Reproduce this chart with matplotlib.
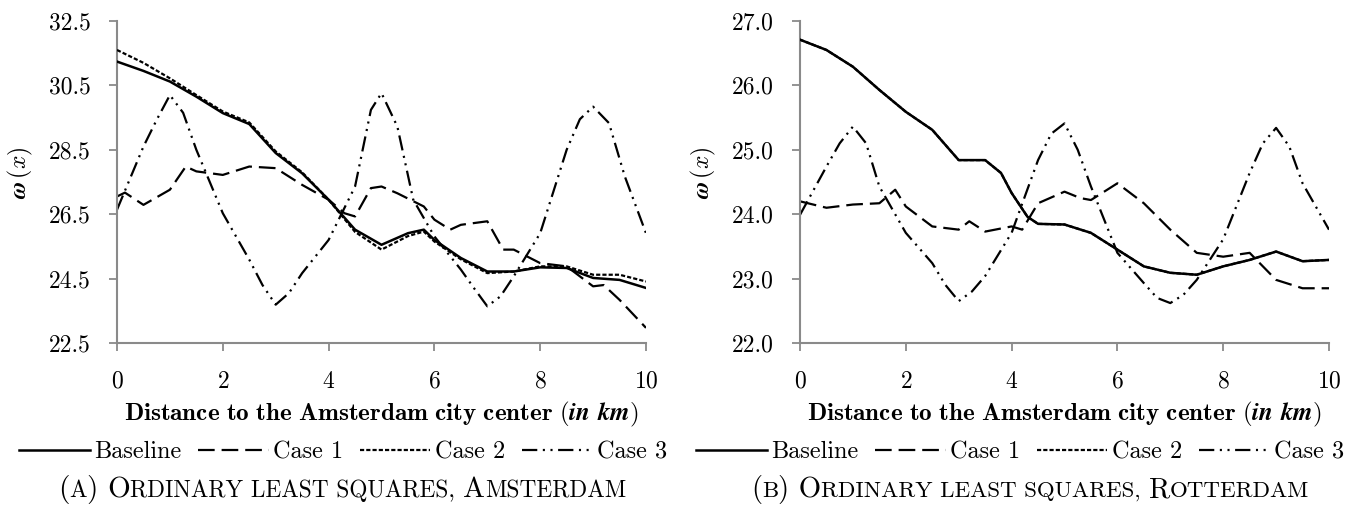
import numpy as np
import matplotlib
matplotlib.use("Agg")
import matplotlib.pyplot as plt

# values (distance in km, omega(x))
ams_base_x = [0, 0.5, 1, 1.5, 2, 2.5, 3, 3.5, 4, 4.5, 5, 5.5, 5.8, 6, 6.5, 7, 7.5, 8, 8.5, 9, 9.5, 10]
ams_base_y = [31.24, 30.95, 30.62, 30.15, 29.64, 29.3, 28.4, 27.77, 26.95, 26.02, 25.55, 25.91, 26.02,
              25.7, 25.14, 24.72, 24.72, 24.85, 24.83, 24.52, 24.46, 24.21]
ams_c2_y = [31.6, 31.2, 30.72, 30.2, 29.69, 29.35, 28.45, 27.8, 26.95, 25.95, 25.4, 25.82, 25.96,
            25.65, 25.1, 24.67, 24.72, 24.88, 24.88, 24.62, 24.62, 24.41]
ams_c1_x = [0, 0.15, 0.5, 1, 1.3, 1.5, 2, 2.5, 3, 3.5, 4, 4.3, 4.5, 4.8, 5, 5.3, 5.8, 6, 6.3, 6.5,
            7, 7.3, 7.5, 8, 8.5, 9, 9.2, 9.5, 10]
ams_c1_y = [27.05, 27.17, 26.79, 27.26, 27.98, 27.83, 27.72, 27.98, 27.93, 27.41, 26.95, 26.53, 26.43,
            27.31, 27.36, 27.15, 26.74, 26.33, 26.02, 26.17, 26.28, 25.4, 25.4, 24.98, 24.88, 24.26,
            24.3, 23.84, 22.97]
ams_c3_x = [0, 0.5, 0.75, 1, 1.25, 1.5, 2, 2.5, 2.75, 3, 3.25, 3.5, 4, 4.5, 4.8, 5, 5.3, 5.6, 6, 6.5,
            6.75, 7, 7.25, 7.5, 8, 8.5, 8.75, 9, 9.3, 9.6, 10]
ams_c3_y = [26.64, 28.6, 29.43, 30.2, 29.65, 28.5, 26.53, 25.09, 24.3, 23.69, 24.05, 24.67, 25.7, 27.36,
            29.74, 30.26, 29.22, 26.95, 25.81, 24.78, 24.2, 23.64, 23.95, 24.57, 25.91, 28.5, 29.45,
            29.84, 29.33, 27.67, 25.91]

rot_base_x = [0, 0.5, 1, 1.5, 2, 2.5, 3, 3.5, 3.8, 4, 4.3, 4.5, 5, 5.5, 6, 6.5, 7, 7.5, 8, 8.5,
              9, 9.5, 10]
rot_base_y = [26.71, 26.55, 26.29, 25.93, 25.59, 25.31, 24.84, 24.84, 24.64, 24.33, 23.96, 23.85,
              23.84, 23.71, 23.45, 23.19, 23.09, 23.06, 23.19, 23.29, 23.42, 23.27, 23.29]
rot_c2_y = [26.71, 26.55, 26.29, 25.93, 25.59, 25.31, 24.84, 24.84, 24.64, 24.33, 23.96, 23.85,
            23.84, 23.71, 23.45, 23.19, 23.09, 23.06, 23.19, 23.29, 23.42, 23.27, 23.29]
rot_c1_x = [0, 0.5, 1, 1.5, 1.8, 2, 2.5, 3, 3.2, 3.5, 4, 4.2, 4.5, 5, 5.3, 5.5, 6, 6.5, 7, 7.5,
            8, 8.5, 9, 9.5, 10]
rot_c1_y = [24.2, 24.1, 24.15, 24.17, 24.38, 24.12, 23.81, 23.76, 23.89, 23.73, 23.81, 23.76, 24.17,
            24.35, 24.25, 24.22, 24.48, 24.17, 23.76, 23.4, 23.34, 23.4, 22.98, 22.85, 22.85]
rot_c3_x = [0, 0.5, 0.75, 1, 1.25, 1.5, 2, 2.5, 2.75, 3, 3.25, 3.5, 4, 4.5, 4.75, 5, 5.25, 5.5, 6,
            6.5, 6.75, 7, 7.25, 7.5, 8, 8.5, 8.75, 9, 9.25, 9.5, 10]
rot_c3_y = [23.99, 24.74, 25.1, 25.36, 25.1, 24.43, 23.71, 23.24, 22.9, 22.65, 22.8, 23.04, 23.71,
            24.84, 25.25, 25.41, 25.0, 24.43, 23.4, 22.93, 22.7, 22.62, 22.75, 22.98, 23.61, 24.64,
            25.1, 25.34, 25.05, 24.48, 23.76]

labels = ["Baseline", "Case 1", "Case 2", "Case 3"]
ams_yticks = [22.5, 24.5, 26.5, 28.5, 30.5, 32.5]
rot_yticks = [22.0, 23.0, 24.0, 25.0, 26.0, 27.0]
xticks = [0, 2, 4, 6, 8, 10]
xlabel = r'$\mathbf{Distance\ to\ the\ Amsterdam\ city\ center}\ \boldsymbol{(in\ km)}$'
captions = [
    [("(", True), ("A", False), (") O", True), ("RDINARY LEAST SQUARES, ", False),
     ("A", True), ("MSTERDAM", False)],
    [("(", True), ("B", False), (") O", True), ("RDINARY LEAST SQUARES, ", False),
     ("R", True), ("OTTERDAM", False)],
]

plt.rcParams['font.family'] = 'serif'
plt.rcParams['font.serif'] = ['cmr10']
plt.rcParams['mathtext.fontset'] = 'cm'
plt.rcParams['axes.formatter.use_mathtext'] = True
plt.rcParams['lines.scale_dashes'] = False

styles = [
    dict(color='black', lw=1.8, ls='-'),
    dict(color='black', lw=1.6, ls=(0, (12, 5))),
    dict(color='black', lw=1.6, ls=(0, (3, 1.5))),
    dict(color='black', lw=1.6, ls=(0, (11, 4, 1.5, 4, 1.5, 4))),
]
zorders = [4, 2, 3, 2]
grey = '#8a8a8a'

W, H = 1351, 508
fig = plt.figure(figsize=(W/100, H/100), dpi=100)
ax1 = fig.add_axes([117/W, 1-343/H, 529/W, 322/H])
ax2 = fig.add_axes([800/W, 1-343/H, 529/W, 322/H])

panels = [
    (ax1, [(ams_base_x, ams_base_y), (ams_c1_x, ams_c1_y), (ams_base_x, ams_c2_y), (ams_c3_x, ams_c3_y)],
     ams_yticks),
    (ax2, [(rot_base_x, rot_base_y), (rot_c1_x, rot_c1_y), (rot_base_x, rot_c2_y), (rot_c3_x, rot_c3_y)],
     rot_yticks),
]

all_handles = []
for ax, series, yt in panels:
    handles = []
    for (xs, ys), st, lab, z in zip(series, styles, labels, zorders):
        h, = ax.plot(xs, ys, label=lab, zorder=z, **st)
        handles.append(h)
    all_handles.append(handles)
    ax.set_xlim(0, 10)
    ax.set_ylim(yt[0], yt[-1])
    ax.set_xticks(xticks)
    ax.set_yticks(yt)
    ax.set_yticklabels(["%.1f" % v for v in yt])
    for s in ['top', 'right']:
        ax.spines[s].set_visible(False)
    for s in ['left', 'bottom']:
        ax.spines[s].set_color(grey)
        ax.spines[s].set_linewidth(1.5)
    ax.tick_params(direction='out', length=6, width=1.3, color=grey, labelsize=17)
    ax.tick_params(axis='x', pad=14)
    ax.tick_params(axis='y', pad=13)
    ax.set_ylabel(r'$\boldsymbol{\omega}\,(x)$', fontsize=17)
    ax.yaxis.set_label_coords(-0.155, 0.53)

for handles, cx in zip(all_handles, [343/W, 1020/W]):
    fig.legend(handles=handles, labels=labels, loc='center', bbox_to_anchor=(cx, 1-452/H),
               ncol=4, frameon=False, fontsize=17.5, handlelength=2.9, handletextpad=0.17,
               columnspacing=0.7, borderaxespad=0, borderpad=0)

fig.canvas.draw()
r = fig.canvas.get_renderer()

# x labels, sized to span the axes width like the reference
xl = []
for ax in [ax1, ax2]:
    b = ax.get_position()
    t = fig.text((b.x0 + b.x1) / 2, 1-420/H, xlabel, fontsize=15, ha='center', va='baseline')
    xl.append(t)
w = xl[0].get_window_extent(r).width
for t in xl:
    t.set_fontsize(15 * 515 / w)

# small caps captions
def small_caps(parts, cx, y, target):
    texts = [fig.text(0, y, s, fontsize=20 if big else 16, va='baseline', ha='left') for s, big in parts]
    total = sum(t.get_window_extent(r).width for t in texts)
    k = target / total
    for t, (s, big) in zip(texts, parts):
        t.set_fontsize((20 if big else 16) * k)
    widths = [t.get_window_extent(r).width for t in texts]
    x = cx * W - sum(widths) / 2
    for t, w in zip(texts, widths):
        t.set_x(x / W)
        x += w

small_caps(captions[0], 342/W, 1-497/H, 570)
small_caps(captions[1], 1030/W, 1-497/H, 560)

fig.savefig("out.png", dpi=100)
